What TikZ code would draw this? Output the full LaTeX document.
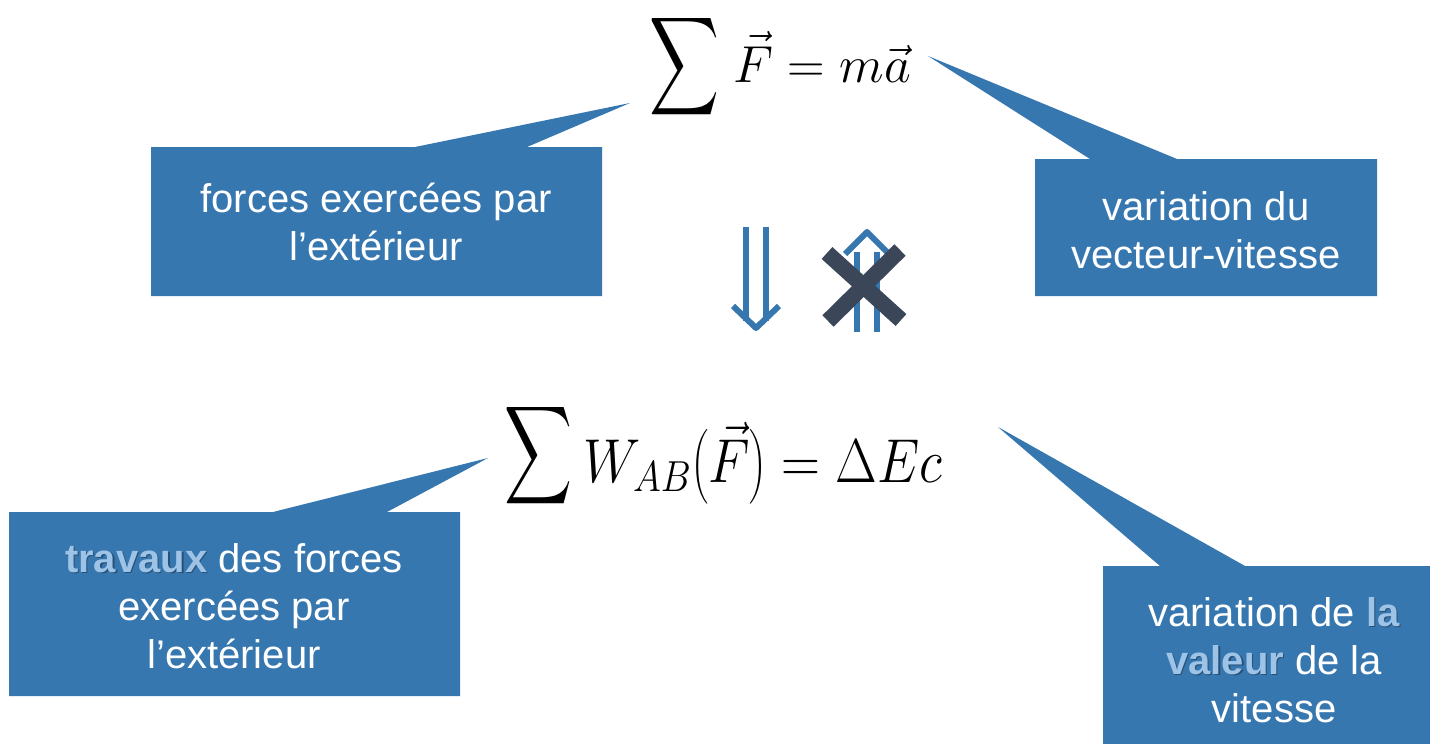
\RequirePackage{fix-cm}
\documentclass[tikz,border=0pt]{standalone}
\usepackage{amsmath}
\usepackage{graphicx}
\usepackage{fontspec}
\setmainfont{Liberation Sans}
\definecolor{boxblue}{RGB}{55,119,176}
\definecolor{hlblue}{RGB}{157,195,230}
\definecolor{hlshadow}{RGB}{40,80,118}
\definecolor{crossc}{RGB}{59,70,89}
\newcommand\hlt[1]{\makebox[0pt][l]{\hspace{1.5pt}\raisebox{-1.5pt}{\textcolor{hlshadow}{\bfseries #1}}}\textcolor{hlblue}{\bfseries #1}}
\tikzset{
  callout/.style={fill=boxblue,draw=none},
  label/.style={text=white,align=center,inner sep=0pt,font=\fontsize{40}{48}\selectfont},
  dblarrow/.style={draw=boxblue,line width=6pt,line join=round,line cap=butt},
  crossline/.style={draw=crossc,line width=16pt,line cap=butt},
}
\begin{document}
\begin{tikzpicture}[x=1pt,y=-1pt]
\useasboundingbox (0,0) rectangle (1430,744);
\clip (0,0) rectangle (1430,744);
\fill[white] (0,0) rectangle (1430,744);
% callouts
\fill[callout] (151,147) -- (415,147) -- (630,103) -- (527,147) -- (602,147) -- (602,296) -- (151,296) -- cycle;
\fill[callout] (1035,159) -- (1090,159) -- (928,56) -- (1177,159) -- (1377,159) -- (1377,296) -- (1035,296) -- cycle;
\fill[callout] (9,512) -- (273,512) -- (488,458) -- (387,512) -- (460,512) -- (460,696) -- (9,696) -- cycle;
\fill[callout] (1103,566) -- (1160,566) -- (998,427) -- (1245,566) -- (1445,566) -- (1445,744) -- (1103,744) -- cycle;
% labels
\node[label] (t1) at (376,222) {forces exercées par\\l’extérieur};
\node[label] (t2) at (1206,230) {variation du\\vecteur-vitesse};
\node[label] (t3) at (234,606) {\hlt{travaux} des forces\\exercées par\\l’extérieur};
\node[label] (t4) at (1274,660) {variation de \hlt{la}\\\hlt{valeur} de la\\vitesse};
% equations
\node[inner sep=0pt] (s1) at (685,67) {\resizebox*{70pt}{110pt}{$\displaystyle\sum$}};
\node[inner sep=0pt,anchor=base west,font=\fontsize{52}{60}\selectfont] (e1) at (733,82) {$\vec{F}=m\vec{a}$};
\node[inner sep=0pt] (s2) at (539,456) {\resizebox*{68pt}{110pt}{$\displaystyle\sum$}};
\node[inner sep=0pt,anchor=base west,font=\fontsize{62}{72}\selectfont] (e2) at (583,482) {\scalebox{0.87}[1]{$W_{AB}\bigl(\vec{F}\bigr)=\Delta Ec$}};
% implication arrows
\coordinate (d1) at (746,227); \coordinate (d2) at (766,227);
\coordinate (d1e) at (746,321); \coordinate (d2e) at (766,321);
\draw[dblarrow] (d1) -- (d1e);
\draw[dblarrow] (d2) -- (d2e);
\draw[dblarrow] (733,306) -- (756,328) -- (779,306);
\draw[dblarrow] (857,252) -- (857,332);
\draw[dblarrow] (877,252) -- (877,332);
\draw[dblarrow] (845,254) -- (867,232) -- (889,254);
\draw[crossline] (827,253) -- (901,320);
\draw[crossline] (900,250) -- (828,321);
\end{tikzpicture}
\end{document}
